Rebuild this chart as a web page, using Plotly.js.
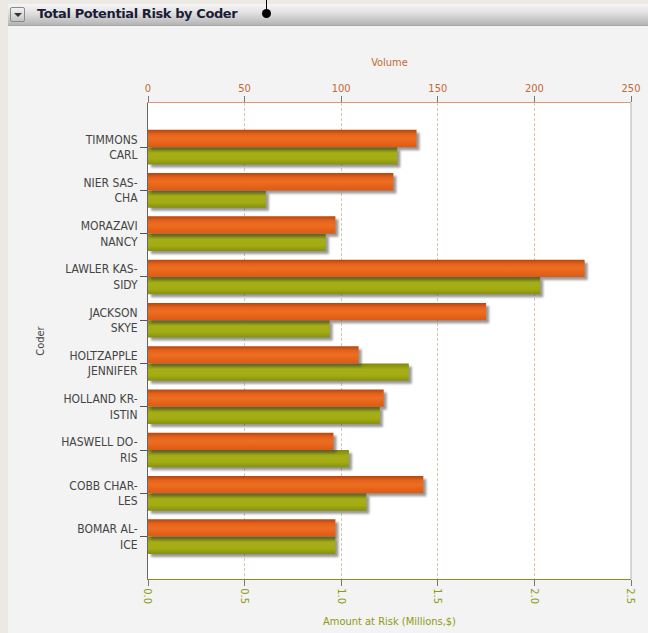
<!DOCTYPE html>
<html>
<head>
<meta charset="utf-8">
<script src="https://cdn.plot.ly/plotly-3.0.1.min.js"></script>
<style>
  html, body { margin: 0; padding: 0; width: 648px; height: 633px; overflow: hidden; background: #ece9e4; }
  #panel { position: absolute; left: 8px; top: 4px; width: 640px; height: 629px; background: #f3f3f3; }
  #header {
    position: absolute; left: 8px; top: 4px; width: 640px; height: 22px;
    background: linear-gradient(#f6f6f6 0%, #e2e2e2 40%, #b4b4b4 100%);
    border-bottom: 1px solid #a8a8a8; box-sizing: border-box;
  }
  #btn {
    position: absolute; left: 2px; top: 3px; width: 15px; height: 15px; box-sizing: border-box;
    border: 1px solid #8a8a8a; border-radius: 2px;
    background: linear-gradient(#f2f2f2, #c4c4c4);
  }
  #btn:after {
    content: ""; position: absolute; left: 3px; top: 5px;
    border-left: 4px solid transparent; border-right: 4px solid transparent; border-top: 4px solid #333;
  }
  #htitle {
    position: absolute; left: 29px; top: 2px; font: bold 13px "DejaVu Sans", sans-serif;
    color: #1c1c38; letter-spacing: -0.4px;
  }
  #pin { position: absolute; left: 262px; top: 9px; width: 9px; height: 9px; border-radius: 50%; background: #000; }
  #pinline { position: absolute; left: 266px; top: 0px; width: 1px; height: 11px; background: #000; }
  #chart { position: absolute; left: 8px; top: 26px; width: 640px; height: 607px; }
  .barlayer .point path { filter: drop-shadow(3px 3px 1.2px rgba(70,70,70,0.55)); }
</style>
</head>
<body>
<svg width="0" height="0" style="position:absolute">
  <defs>
    <linearGradient id="gradVolume" x1="0" y1="0" x2="0" y2="1">
      <stop offset="0" stop-color="#b4460f"/>
      <stop offset="0.25" stop-color="#e4621c"/>
      <stop offset="0.5" stop-color="#ee6e20"/>
      <stop offset="1" stop-color="#dc5a14"/>
    </linearGradient>
    <linearGradient id="gradAmount" x1="0" y1="0" x2="0" y2="1">
      <stop offset="0" stop-color="#7c880e"/>
      <stop offset="0.35" stop-color="#a5ae14"/>
      <stop offset="0.7" stop-color="#a3ac12"/>
      <stop offset="1" stop-color="#85910e"/>
    </linearGradient>
  </defs>
</svg>
<div id="panel"></div>
<div id="header"><div id="btn"></div><div id="htitle">Total Potential Risk by Coder</div></div>
<div id="pinline"></div><div id="pin"></div>
<div id="chart"></div>
<script>
// Coders, listed top to bottom
const coders = [
  "TIMMONS<br>CARL",
  "NIER SAS-<br>CHA",
  "MORAZAVI<br>NANCY",
  "LAWLER KAS-<br>SIDY",
  "JACKSON<br>SKYE",
  "HOLTZAPPLE<br>JENNIFER",
  "HOLLAND KR-<br>ISTIN",
  "HASWELL DO-<br>RIS",
  "COBB CHAR-<br>LES",
  "BOMAR AL-<br>ICE"
];
// Number of records per coder (top axis)
const volume = [139, 127, 97, 226, 175, 109, 122, 96, 142.5, 97];
// Amount at risk in millions of dollars (bottom axis)
const amountAtRisk = [1.29, 0.61, 0.92, 2.03, 0.94, 1.35, 1.20, 1.04, 1.13, 0.97];

const volumeTicks = [0, 50, 100, 150, 200, 250];
const amountTicks = [0, 0.5, 1.0, 1.5, 2.0, 2.5];
const amountTickText = ["0.0", "0.5", "1.0", "1.5", "2.0", "2.5"];

const FONT = '"DejaVu Sans Condensed", "DejaVu Sans", sans-serif';

// The two series live on different x axes, so each bar is placed by hand
// inside its category slot: volume above, amount below.
const traces = [
  {
    type: 'bar', orientation: 'h', name: 'Volume',
    y: coders, x: volume, xaxis: 'x2', yaxis: 'y',
    offset: -0.4, width: 0.4,
    marker: { color: '#e4621c', line: { width: 0 } }
  },
  {
    type: 'bar', orientation: 'h', name: 'Amount at Risk',
    y: coders, x: amountAtRisk, xaxis: 'x', yaxis: 'y',
    offset: 0, width: 0.4,
    marker: { color: '#a2ab12', line: { width: 0 } }
  }
];

const layout = {
  width: 640, height: 607,
  margin: { l: 140, r: 17, t: 77, b: 54, pad: 0 },
  paper_bgcolor: '#f3f3f3',
  plot_bgcolor: '#ffffff',
  showlegend: false,
  barmode: 'overlay',
  font: { family: FONT, size: 11, color: '#444' },
  xaxis: {
    range: [0, 2.5], tickvals: amountTicks, ticktext: amountTickText,
    tickangle: 90,
    side: 'bottom', showline: true, linecolor: '#8a9020', linewidth: 1,
    ticks: 'outside', ticklen: 6, tickcolor: '#777',
    showgrid: true, gridcolor: '#dcc6a6', griddash: '3px,2px', gridwidth: 1,
    zeroline: false,
    tickfont: { family: FONT, size: 11, color: '#8e9a12' },
    title: { text: 'Amount at Risk (Millions,$)', font: { family: FONT, size: 11, color: '#8e9a12' }, standoff: 14 }
  },
  xaxis2: {
    range: [0, 250], tickvals: volumeTicks,
    overlaying: 'x', side: 'top', anchor: 'y',
    showline: true, linecolor: '#dc9670', linewidth: 1,
    ticks: 'outside', ticklen: 6, tickcolor: '#777',
    showgrid: false, zeroline: false,
    tickfont: { family: FONT, size: 11, color: '#c26a38' },
    title: { text: 'Volume', font: { family: FONT, size: 11, color: '#c26a38' }, standoff: 12 }
  },
  yaxis: {
    type: 'category', categoryorder: 'array', categoryarray: coders,
    range: [9.98, -1.02],
    showline: true, linecolor: '#666', linewidth: 1,
    ticks: 'outside', ticklen: 7, tickcolor: '#555',
    showgrid: false, zeroline: false,
    tickfont: { family: FONT, size: 12, color: '#444' },
    title: { text: 'Coder', font: { family: FONT, size: 11, color: '#444' }, standoff: 14 }
  },
  shapes: [
    { type: 'line', xref: 'paper', yref: 'paper', x0: 1, x1: 1, y0: 0, y1: 1,
      line: { color: '#b0b0b0', width: 1 } }
  ]
};

Plotly.newPlot('chart', traces, layout, { displayModeBar: false, staticPlot: true }).then(function (gd) {
  // vertical shading on the bars, chosen by the trace each bar belongs to
  const fills = { 'Volume': 'url(#gradVolume)', 'Amount at Risk': 'url(#gradAmount)' };
  gd.querySelectorAll('.barlayer .trace').forEach(function (t) {
    const cd = t.__data__;
    const name = cd && cd[0] && cd[0].trace ? cd[0].trace.name : null;
    if (!fills[name]) return;
    t.querySelectorAll('.point path').forEach(function (p) {
      p.style.fill = fills[name];
    });
  });
});
</script>
</body>
</html>
